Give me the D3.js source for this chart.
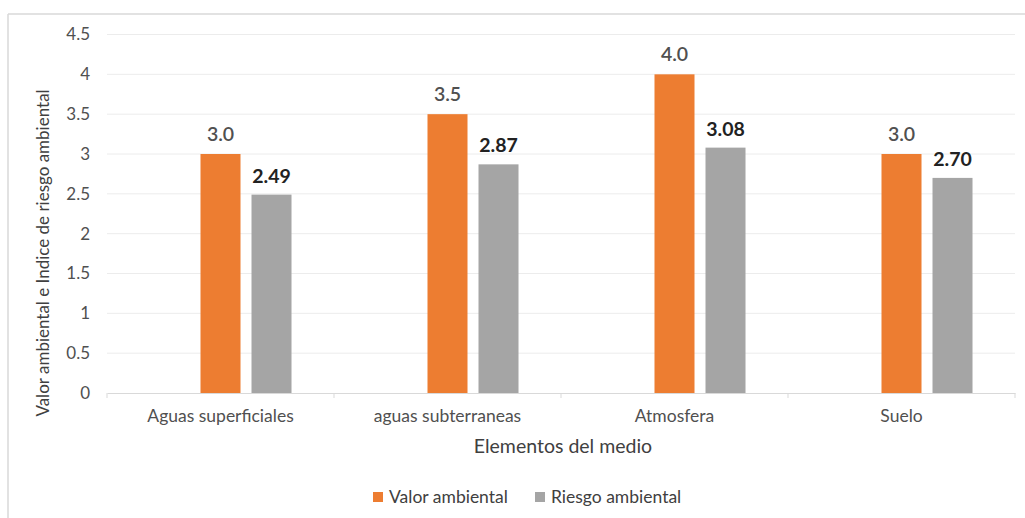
<!DOCTYPE html>
<html>
<head>
<meta charset="utf-8">
<script src="https://cdn.jsdelivr.net/npm/d3@7"></script>
<style>
  html, body { margin: 0; padding: 0; background: #fff; }
  svg { display: block; font-family: Lato, "Open Sans", sans-serif; }
</style>
</head>
<body>
<svg id="chart" width="1025" height="518"></svg>
<script>
// Chart data
const categories = ["Aguas superficiales", "aguas subterraneas", "Atmosfera", "Suelo"];
const seriesNames = ["Valor ambiental", "Riesgo ambiental"];
const valorAmbiental = [3.0, 3.5, 4.0, 3.0];
const riesgoAmbiental = [2.49, 2.87, 3.08, 2.70];
const valueLabels = [
  ["3.0", "3.5", "4.0", "3.0"],
  ["2.49", "2.87", "3.08", "2.70"]
];
const yTicks = [0, 0.5, 1, 1.5, 2, 2.5, 3, 3.5, 4, 4.5];
const colors = ["#ED7D31", "#A5A5A5"];

const series = [valorAmbiental, riesgoAmbiental];

const svg = d3.select("#chart");
const W = 1025, H = 518;
const plot = { left: 107, right: 1015, top: 34.5, bottom: 393 };

// Outer frame: top and left edges
svg.append("line").attr("x1", 8).attr("x2", W).attr("y1", 14).attr("y2", 14)
  .attr("stroke", "#d9d9d9").attr("stroke-width", 1.5);
svg.append("line").attr("x1", 8).attr("x2", 8).attr("y1", 14).attr("y2", H)
  .attr("stroke", "#d9d9d9").attr("stroke-width", 1.5);

const x0 = d3.scaleBand().domain(categories).range([plot.left, plot.right]).padding(0);
// Three slots per category; the two series occupy the last two
const x1 = d3.scaleBand().domain([0, 1, 2]).range([0, x0.bandwidth()])
  .paddingInner(0.2157).paddingOuter(0.833);
const y = d3.scaleLinear().domain([0, 4.5]).range([plot.bottom, plot.top]);

// Gridlines
svg.append("g").selectAll("line").data(yTicks.filter(t => t > 0)).join("line")
  .attr("x1", plot.left).attr("x2", plot.right)
  .attr("y1", d => y(d)).attr("y2", d => y(d))
  .attr("stroke", "#ececec").attr("stroke-width", 1);

// Y axis labels
const yAxis = d3.axisLeft(y).tickValues(yTicks).tickSize(0).tickPadding(17)
  .tickFormat(d => String(d));
const yg = svg.append("g").attr("transform", `translate(${plot.left},0)`).call(yAxis);
yg.select(".domain").remove();
yg.selectAll("text").attr("fill", "#505050").style("font-size", "17px")
  .style("font-family", "Lato, sans-serif");

// X axis with category ticks between bands
const xg = svg.append("g").attr("transform", `translate(0,${plot.bottom})`)
  .call(d3.axisBottom(x0).tickSize(0).tickPadding(17));
xg.select(".domain").attr("stroke", "#d9d9d9").attr("stroke-width", 1.2);
xg.selectAll("text").attr("fill", "#505050").style("font-size", "17.5px")
  .style("font-family", "Lato, sans-serif");
const boundaries = categories.map(c => x0(c)).concat([plot.right]);
xg.selectAll("line.sep").data(boundaries).join("line").attr("class", "sep")
  .attr("x1", d => d).attr("x2", d => d).attr("y1", 0).attr("y2", 5)
  .attr("stroke", "#d9d9d9").attr("stroke-width", 1);

// Bars
series.forEach((vals, si) => {
  const g = svg.append("g");
  g.selectAll("rect").data(categories).join("rect")
    .attr("x", (c) => x0(c) + x1(si + 1))
    .attr("width", x1.bandwidth())
    .attr("y", (c, i) => y(vals[i]))
    .attr("height", (c, i) => y(0) - y(vals[i]))
    .attr("fill", colors[si]);
  g.selectAll("text").data(categories).join("text")
    .attr("x", (c) => x0(c) + x1(si + 1) + x1.bandwidth() / 2)
    .attr("y", (c, i) => y(vals[i]) - (si === 0 ? 13 : 12))
    .attr("text-anchor", "middle")
    .style("font-size", "19.5px")
    .style("font-weight", si === 0 ? "600" : "700")
    .attr("fill", si === 0 ? "#505050" : "#222")
    .text((c, i) => valueLabels[si][i]);
});

// Axis titles
svg.append("text")
  .attr("transform", `translate(49,253) rotate(-90)`)
  .attr("text-anchor", "middle")
  .style("font-size", "17px")
  .attr("fill", "#404040")
  .text("Valor ambiental e Indice de riesgo ambiental");

svg.append("text")
  .attr("x", (plot.left + plot.right) / 2 + 2).attr("y", 453)
  .attr("text-anchor", "middle")
  .style("font-size", "19.5px")
  .attr("fill", "#404040")
  .text("Elementos del medio");

// Legend
const legendX = [373, 535];
const legend = svg.append("g");
seriesNames.forEach((name, i) => {
  legend.append("rect").attr("x", legendX[i]).attr("y", 492).attr("width", 10).attr("height", 10)
    .attr("fill", colors[i]);
  legend.append("text").attr("x", legendX[i] + 16).attr("y", 503)
    .style("font-size", "17.5px").attr("fill", "#404040").text(name);
});
</script>
</body>
</html>
